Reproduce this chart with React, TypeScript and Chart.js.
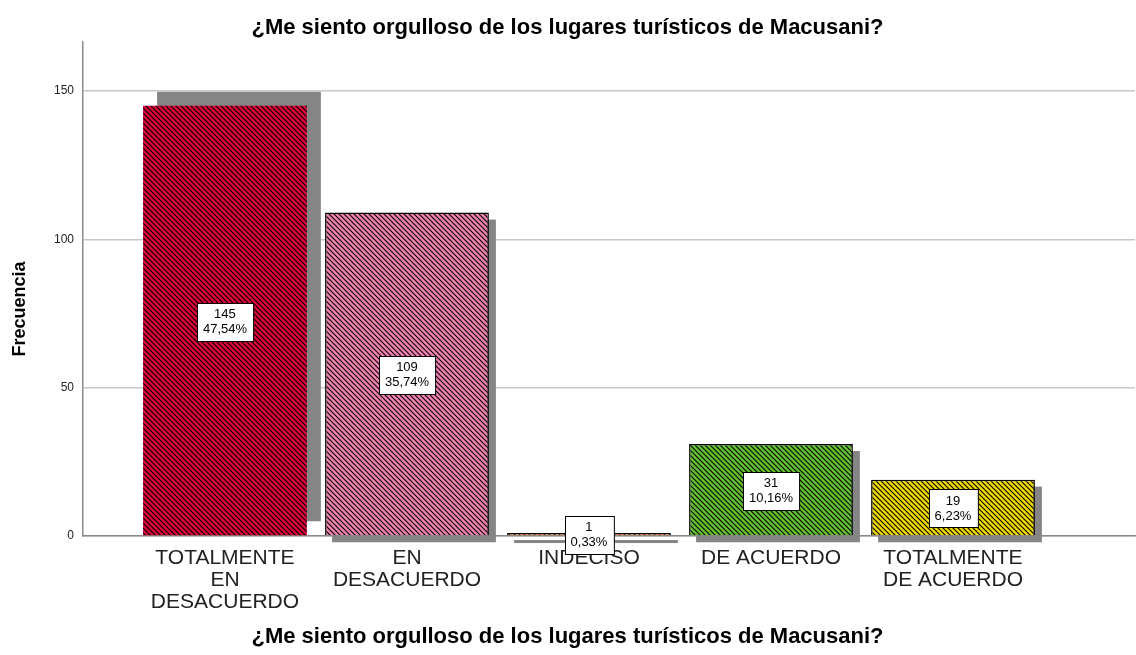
import React, { useEffect, useRef } from 'react';
import { Chart, registerables } from 'chart.js';

Chart.register(...registerables);

const TITLE = '¿Me siento orgulloso de los lugares turísticos de Macusani?';
const X_TITLE = '¿Me siento orgulloso de los lugares turísticos de Macusani?';
const Y_TITLE = 'Frecuencia';
const categories: string[][] = [
  ['TOTALMENTE', 'EN', 'DESACUERDO'],
  ['EN', 'DESACUERDO'],
  ['INDECISO'],
  ['DE ACUERDO'],
  ['TOTALMENTE', 'DE ACUERDO'],
];
const frequencies = [145, 109, 1, 31, 19];
const percentages = ['47,54%', '35,74%', '0,33%', '10,16%', '6,23%'];
const yTickValues = [0, 50, 100, 150];

const barColors = ['#e0003a', '#f682b2', '#f07a2c', '#62c230', '#f0da00'];
const barBorderWidths = [0, 1.5, 1.5, 1.5, 1.5];
const shadowDx = [14, 7, 7, 7, 7];
const shadowDy = [-14, 7, 7, 7, 7];

const FONT = 'Arial, "Liberation Sans", sans-serif';

function hatch(color: string): CanvasPattern | string {
  const s = 5;
  const c = document.createElement('canvas');
  c.width = s;
  c.height = s;
  const g = c.getContext('2d');
  if (!g) return color;
  g.fillStyle = color;
  g.fillRect(0, 0, s, s);
  g.strokeStyle = '#000';
  g.lineWidth = 1.1;
  g.beginPath();
  for (let k = -1; k <= 1; k++) {
    g.moveTo(-1, -1 + k * s);
    g.lineTo(s + 1, s + 1 + k * s);
  }
  g.stroke();
  const p = g.createPattern(c, 'repeat');
  return p || color;
}

const shadowPlugin = {
  id: 'barShadow',
  beforeDatasetsDraw(chart: any) {
    const meta = chart.getDatasetMeta(0);
    const ctx = chart.ctx;
    ctx.save();
    ctx.fillStyle = '#858585';
    meta.data.forEach((bar: any, i: number) => {
      const { x, y, base, width } = bar.getProps(['x', 'y', 'base', 'width'], true);
      const top = Math.min(y, base);
      const h = Math.abs(base - y);
      ctx.fillRect(x - width / 2 + shadowDx[i], top + shadowDy[i], width, Math.max(h, 3));
    });
    ctx.restore();
  },
};

const labelPlugin = {
  id: 'barLabels',
  afterDatasetsDraw(chart: any) {
    const meta = chart.getDatasetMeta(0);
    const ctx = chart.ctx;
    ctx.save();
    ctx.font = `13px ${FONT}`;
    ctx.textAlign = 'center';
    ctx.textBaseline = 'middle';
    meta.data.forEach((bar: any, i: number) => {
      const { x, y, base } = bar.getProps(['x', 'y', 'base'], true);
      const cy = (y + base) / 2;
      const lines = [String(frequencies[i]), percentages[i]];
      const w = Math.max(...lines.map((l) => ctx.measureText(l).width)) + 12;
      const h = 38;
      const bx = Math.round(x - w / 2) + 0.5;
      const by = Math.round(cy - h / 2 + 1) + 0.5;
      ctx.fillStyle = '#ffffff';
      ctx.fillRect(bx, by, w, h);
      ctx.strokeStyle = '#000000';
      ctx.lineWidth = 1;
      ctx.strokeRect(bx, by, w, h);
      ctx.fillStyle = '#000000';
      ctx.fillText(lines[0], x, cy - 6.5);
      ctx.fillText(lines[1], x, cy + 8.5);
    });
    ctx.restore();
  },
};

export default function App() {
  const ref = useRef<HTMLCanvasElement | null>(null);

  useEffect(() => {
    if (!ref.current) return;
    const data = frequencies.map((v, i) => ({ x: i, y: v }));
    const chart = new Chart(ref.current, {
      type: 'bar',
      data: {
        datasets: [
          {
            data,
            backgroundColor: barColors.map(hatch),
            borderColor: '#000000',
            borderWidth: barBorderWidths,
            barPercentage: 0.9,
            categoryPercentage: 1.0,
          } as any,
        ],
      },
      options: {
        animation: false,
        responsive: false,
        layout: { padding: { left: 0, right: 1, top: 0, bottom: 0 } },
        plugins: {
          legend: { display: false },
          tooltip: { enabled: false },
          title: {
            display: true,
            text: TITLE,
            color: '#000000',
            font: { family: FONT, size: 22, weight: 'bold' },
            padding: { top: 15, bottom: 0.6 },
          },
          subtitle: {
            display: true,
            position: 'bottom',
            text: X_TITLE,
            color: '#000000',
            font: { family: FONT, size: 22, weight: 'bold' },
            padding: { top: 0, bottom: 4.8 },
          },
        },
        scales: {
          x: {
            type: 'linear',
            offset: false,
            min: -0.78,
            max: 5.0,
            afterBuildTicks: (scale: any) => {
              scale.ticks = categories.map((_, i) => ({ value: i }));
            },
            afterFit: (scale: any) => {
              scale.height = 87.8;
            },
            ticks: {
              autoSkip: false,
              maxRotation: 0,
              minRotation: 0,
              padding: 11,
              color: '#222222',
              font: { family: FONT, size: 21, lineHeight: 1.05 },
              callback: (v: any) => categories[Number(v)] ?? '',
            },
            grid: { display: true, drawOnChartArea: false, drawTicks: false, color: 'rgba(0,0,0,0)' },
            border: { display: true, color: '#8a8a8a', width: 1.5 },
          },
          y: {
            type: 'linear',
            min: 0,
            max: 166.5,
            afterBuildTicks: (scale: any) => {
              scale.ticks = yTickValues.map((v) => ({ value: v }));
            },
            afterFit: (scale: any) => {
              scale.width = 83;
            },
            ticks: {
              padding: 9,
              color: '#222222',
              font: { family: FONT, size: 12 },
            },
            grid: { color: '#c8c8c8', lineWidth: 1.5, drawTicks: false },
            border: { display: true, color: '#8a8a8a', width: 1.5 },
            title: {
              display: true,
              text: Y_TITLE + '        ',
              color: '#000000',
              font: { family: FONT, size: 18, weight: 'bold' },
              padding: { top: 9, bottom: 0 },
            },
          },
        },
      },
      plugins: [shadowPlugin, labelPlugin],
    });
    return () => chart.destroy();
  }, []);

  return (
    <div style={{ position: 'fixed', left: 0, top: 0, width: 1136, height: 655, background: '#ffffff' }}>
      <canvas ref={ref} width={1136} height={655} />
    </div>
  );
}
